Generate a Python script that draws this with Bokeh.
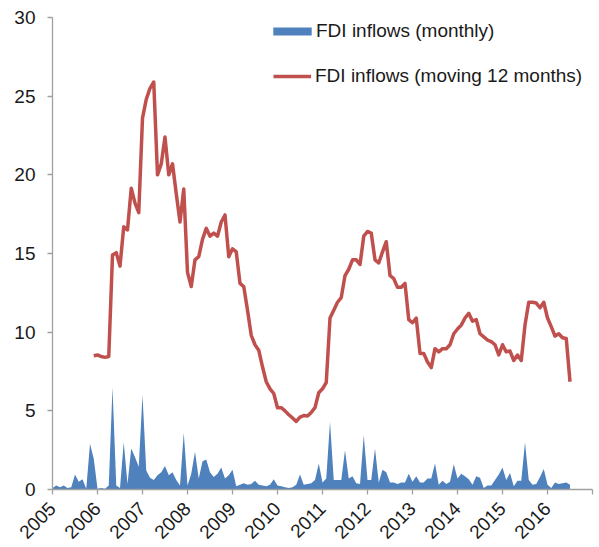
from math import pi
from bokeh.plotting import figure
from bokeh.models import Range1d, FixedTicker, Legend, LegendItem, ColumnDataSource
from bokeh.embed import file_html
from bokeh.resources import INLINE

# ---- data (USD bn), monthly from Jan 2005 ----
start_year = 2005
monthly_2005 = [0.1, 0.25, 0.15, 0.25, 0.1, 0.15, 0.95, 0.5, 0.65, 0.05, 2.9, 1.95]
monthly_2006 = [0.05, 0.1, 0.05, 0.25, 6.5, 0.25, 0.1, 3.0, 0.35, 2.6, 2.05, 1.45]
monthly_2007 = [6.0, 1.2, 0.75, 0.6, 0.9, 1.1, 1.5, 0.9, 1.1, 0.6, 0.25, 3.6]
monthly_2008 = [0.25, 1.0, 2.4, 0.7, 1.8, 1.9, 1.1, 0.8, 1.0, 1.4, 0.7, 0.9]
monthly_2009 = [1.25, 0.2, 0.3, 0.4, 0.3, 0.35, 0.55, 0.3, 0.25, 0.2, 0.3, 0.65]
monthly_2010 = [0.25, 0.2, 0.15, 0.1, 0.15, 0.3, 0.95, 0.3, 0.35, 0.4, 0.6, 1.65]
monthly_2011 = [0.45, 0.7, 4.3, 0.6, 0.6, 0.6, 2.5, 0.7, 0.85, 0.4, 0.35, 3.45]
monthly_2012 = [0.6, 0.6, 2.6, 0.45, 1.25, 1.1, 0.45, 0.45, 0.35, 0.45, 0.45, 1.0]
monthly_2013 = [0.5, 0.85, 0.45, 0.45, 0.7, 0.7, 1.65, 0.3, 0.55, 0.35, 0.5, 1.6]
monthly_2014 = [0.7, 1.0, 0.85, 0.65, 0.3, 0.85, 0.75, 0.1, 0.25, 0.25, 0.6, 0.95]
monthly_2015 = [1.4, 0.6, 1.05, 0.2, 0.55, 0.55, 3.0, 0.6, 0.3, 0.35, 0.8, 1.3]
monthly_2016 = [0.3, 0.1, 0.45, 0.35, 0.4, 0.45, 0.3]

# moving 12-month sum, from Dec 2005
moving_start_index = 11
moving_2005 = [8.5]
moving_2006 = [8.55, 8.45, 8.4, 8.45, 14.9, 15.05, 14.2, 16.7, 16.5, 19.15, 18.2, 17.6]
moving_2007 = [23.6, 24.8, 25.5, 25.9, 20.0, 20.7, 22.4, 20.0, 20.7, 18.8, 17.0, 19.1]
moving_2008 = [13.8, 12.9, 14.6, 14.8, 15.9, 16.6, 16.1, 16.3, 16.1, 17.0, 17.45, 14.8]
moving_2009 = [15.3, 15.1, 13.1, 12.9, 11.4, 9.8, 9.2, 8.85, 7.8, 6.85, 6.4, 6.1]
moving_2010 = [5.2, 5.2, 5.0, 4.75, 4.55, 4.33, 4.6, 4.7, 4.67, 4.9, 5.2, 6.15]
moving_2011 = [6.4, 6.8, 10.9, 11.4, 11.9, 12.2, 13.6, 14.0, 14.6, 14.6, 14.3, 16.1]
moving_2012 = [16.4, 16.3, 14.6, 14.4, 15.1, 15.75, 13.6, 13.4, 12.85, 12.85, 13.1, 10.8]
moving_2013 = [10.6, 10.9, 8.65, 8.65, 8.1, 7.75, 8.95, 8.75, 8.95, 8.95, 9.2, 9.9]
moving_2014 = [10.2, 10.45, 10.9, 11.2, 10.7, 10.8, 9.9, 9.7, 9.5, 9.4, 9.2, 8.55]
moving_2015 = [9.2, 8.75, 8.8, 8.2, 8.55, 8.2, 10.45, 11.9, 11.9, 11.85, 11.55, 11.9]
moving_2016 = [10.9, 10.35, 9.75, 9.9, 9.65, 9.6, 6.85]

year_ticks = list(range(2005, 2018))
y_ticks = [0, 5, 10, 15, 20, 25, 30]
label_monthly = "FDI inflows (monthly)"
label_moving = "FDI inflows (moving 12 months)"

monthly = (monthly_2005 + monthly_2006 + monthly_2007 + monthly_2008 + monthly_2009
           + monthly_2010 + monthly_2011 + monthly_2012 + monthly_2013 + monthly_2014
           + monthly_2015 + monthly_2016)
moving = (moving_2005 + moving_2006 + moving_2007 + moving_2008 + moving_2009
          + moving_2010 + moving_2011 + moving_2012 + moving_2013 + moving_2014
          + moving_2015 + moving_2016)

month_x = [start_year + i / 12 for i in range(len(monthly))]
moving_x = [start_year + (moving_start_index + i) / 12 for i in range(len(moving))]

BLUE = "#4F81BD"
RED = "#C0504D"
FONT = "Liberation Sans"
TEXT = "#1a1a1a"

p = figure(width=599, height=547, output_backend="svg", toolbar_location=None,
           x_range=Range1d(2005, 2017), y_range=Range1d(0, 30),
           min_border_left=52, min_border_right=7, min_border_top=17, min_border_bottom=57)
p.outline_line_color = None
p.xgrid.visible = False
p.ygrid.visible = False
p.background_fill_color = "white"
p.border_fill_color = "white"

src_m = ColumnDataSource(dict(x=month_x, y=monthly))
src_r = ColumnDataSource(dict(x=moving_x, y=moving))
area_r = p.varea(x="x", y1=0, y2="y", source=src_m, fill_color=BLUE)
red_r = p.line(x="x", y="y", source=src_r, line_color=RED, line_width=3.5, line_join="round")

for ax in (p.xaxis[0], p.yaxis[0]):
    ax.axis_line_color = "#A0A0A0"
    ax.axis_line_width = 1.3
    ax.major_tick_line_color = "#A0A0A0"
    ax.major_tick_line_width = 1.3
    ax.major_tick_out = 5
    ax.major_tick_in = 0
    ax.minor_tick_line_color = None
    ax.major_label_text_font = FONT
    ax.major_label_text_font_size = "19px"
    ax.major_label_text_color = TEXT

p.xaxis.ticker = FixedTicker(ticks=year_ticks)
p.xaxis.major_label_overrides = {2017: ""}
p.xaxis.major_label_orientation = pi / 4
p.xaxis.major_label_standoff = 11
p.yaxis.ticker = FixedTicker(ticks=y_ticks)
p.yaxis.major_label_standoff = 12

common = dict(padding=0, margin=0, border_line_color=None, background_fill_alpha=0,
              label_text_font=FONT, label_text_font_size="19px", label_text_color=TEXT)

legend_blue = Legend(items=[LegendItem(label=label_monthly, renderers=[area_r])],
                     location=(216, 446), glyph_width=48, glyph_height=10,
                     label_height=24, label_standoff=0, **common)
legend_red = Legend(items=[LegendItem(label=label_moving, renderers=[red_r])],
                    location=(221, 401), glyph_width=38, glyph_height=24,
                    label_height=24, label_standoff=4, **common)
p.add_layout(legend_blue)
p.add_layout(legend_red)

open("out.html", "w").write(file_html(p, INLINE))
